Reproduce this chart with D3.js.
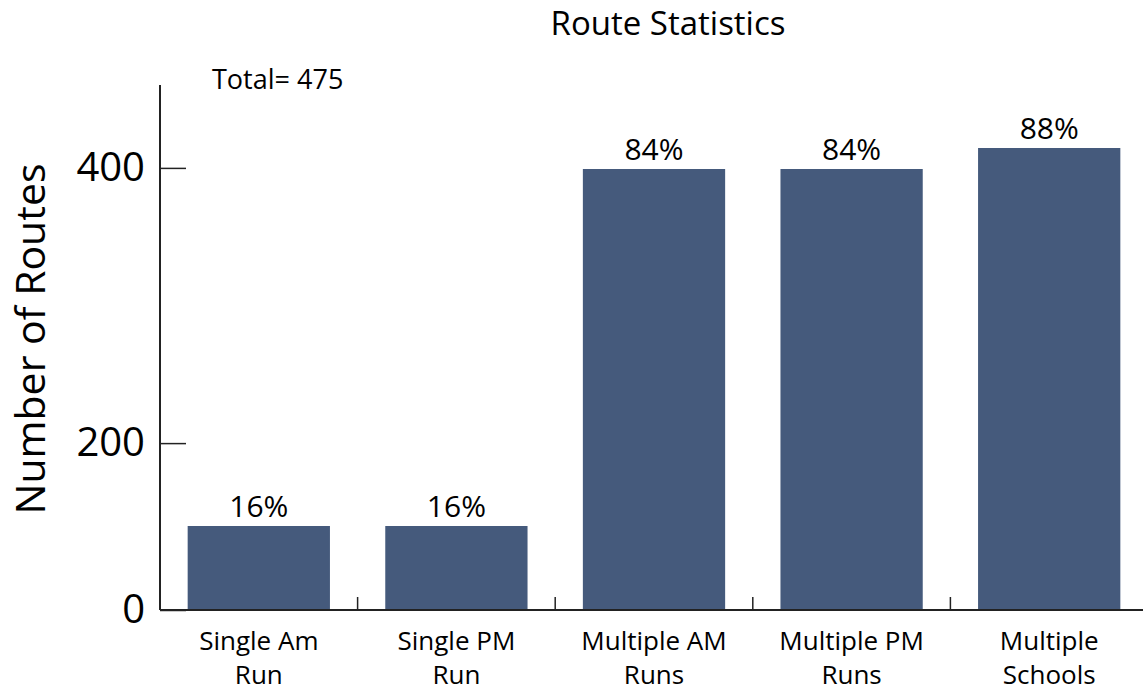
<!DOCTYPE html>
<html>
<head>
<meta charset="utf-8">
<script src="https://cdn.jsdelivr.net/npm/d3@7"></script>
<style>
  body { margin: 0; background: #fff; }
  text { font-family: "Open Sans", sans-serif; fill: #000; }
</style>
</head>
<body>
<div id="chart"></div>
<script>
// data
const categories = ["Single Am\nRun", "Single PM\nRun", "Multiple AM\nRuns", "Multiple PM\nRuns", "Multiple\nSchools"];
const routes = [76, 76, 399, 399, 418];
const percents = ["16%", "16%", "84%", "84%", "88%"];
const total = 475;
// tick positions as drawn in the reference and their labels
const yTickValues = [0, 151, 400];
const yTickLabels = ["0", "200", "400"];

const W = 1143, H = 691;
const svg = d3.select("#chart").append("svg")
  .attr("width", W).attr("height", H);

const x = d3.scaleBand()
  .domain(categories)
  .range([160, 1148])
  .paddingInner(0.28)
  .paddingOuter(0.14);

const y = d3.scaleLinear()
  .domain([0, total])
  .range([610, 85]);

// bars
svg.selectAll(".bar")
  .data(routes)
  .join("rect")
    .attr("class", "bar")
    .attr("x", (d, i) => x(categories[i]))
    .attr("y", d => y(d))
    .attr("width", x.bandwidth())
    .attr("height", d => y(0) - y(d))
    .attr("fill", "#455a7c");

// percent labels
svg.selectAll(".pct")
  .data(routes)
  .join("text")
    .attr("class", "pct")
    .attr("x", (d, i) => x(categories[i]) + x.bandwidth() / 2)
    .attr("y", d => y(d) - 9)
    .attr("text-anchor", "middle")
    .style("font-size", "30px")
    .text((d, i) => percents[i]);

// y axis
const yAxis = svg.append("g")
  .attr("transform", "translate(160,0)")
  .call(d3.axisRight(y)
    .tickValues(yTickValues)
    .tickSize(26)
    .tickFormat((d, i) => yTickLabels[i]));
yAxis.select(".domain").remove();
yAxis.selectAll(".tick line").attr("stroke", "#222").attr("stroke-width", 1.5);
yAxis.selectAll(".tick text")
  .attr("x", -15)
  .attr("text-anchor", "end")
  .style("font-size", "40px")
  .style("font-family", "'Open Sans', sans-serif");
yAxis.append("line")
  .attr("x1", 0).attr("x2", 0)
  .attr("y1", y(total)).attr("y2", y(0))
  .attr("stroke", "#222").attr("stroke-width", 2);

// x axis baseline and boundary ticks
const step = x.step();
const bounds = categories.slice(1).map(c => x(c) - x.paddingInner() * step / 2);
const xAxis = svg.append("g");
xAxis.append("line")
  .attr("x1", 160).attr("x2", W)
  .attr("y1", y(0)).attr("y2", y(0))
  .attr("stroke", "#222").attr("stroke-width", 2);
xAxis.selectAll(".xtick")
  .data(bounds)
  .join("line")
    .attr("x1", d => d).attr("x2", d => d)
    .attr("y1", y(0)).attr("y2", y(0) - 13)
    .attr("stroke", "#222").attr("stroke-width", 1.5);

// category labels, one text per line
categories.forEach(c => {
  c.split("\n").forEach((line, i) => {
    svg.append("text")
      .attr("class", "cat")
      .attr("x", x(c) + x.bandwidth() / 2)
      .attr("y", 650 + i * 34)
      .attr("text-anchor", "middle")
      .style("font-size", "26px")
      .text(line);
  });
});

// titles
svg.append("text")
  .attr("x", 668).attr("y", 35)
  .attr("text-anchor", "middle")
  .style("font-size", "33px")
  .text("Route Statistics");

svg.append("text")
  .attr("x", 212).attr("y", 89)
  .style("font-size", "27px")
  .text("Total= " + total);

svg.append("text")
  .attr("transform", "translate(45,339) rotate(-90)")
  .attr("text-anchor", "middle")
  .style("font-size", "41px")
  .text("Number of Routes");
</script>
</body>
</html>
